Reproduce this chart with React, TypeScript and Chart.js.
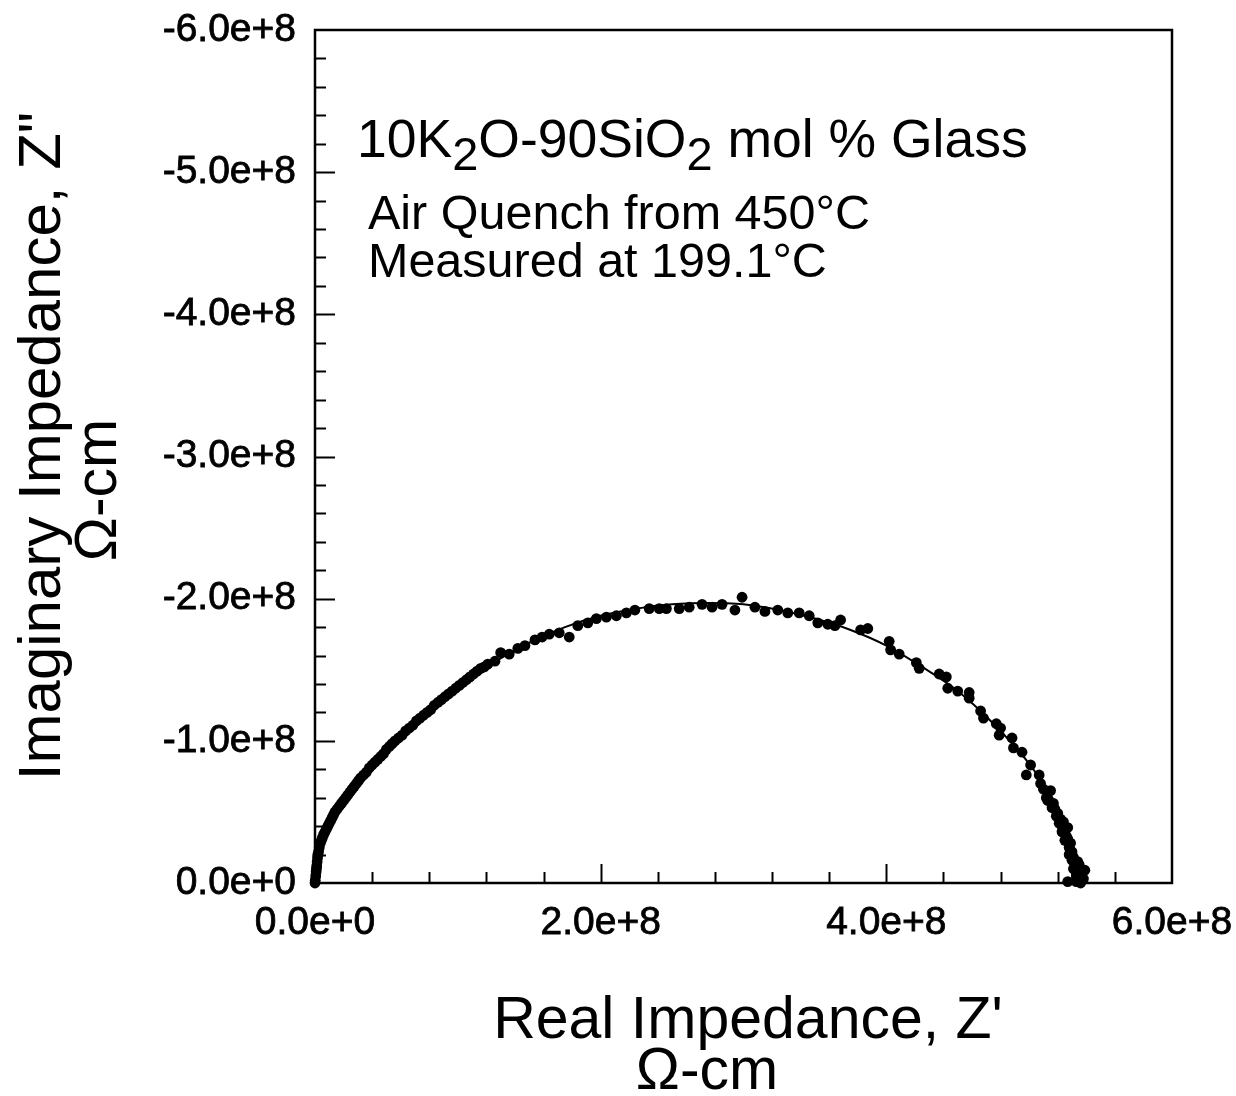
import React, { useEffect, useRef } from "react";
import { Chart, registerables } from "chart.js";

Chart.register(...registerables);

const FONT = '"Liberation Sans", Arial, Helvetica, sans-serif';
const UNIT = 1e8;

// Measured points: real part Z' (x 1e8 ohm-cm)
const pointReal = [
  0.0, 0.005, 0.01, 0.015, 0.02, 0.03, 0.045, 0.06, 0.08, 0.1, 0.12, 0.14, 0.17, 0.2, 0.23, 0.26, 0.29, 0.32,
  0.36, 0.4, 0.44, 0.48, 0.52, 0.56, 0.61, 0.66, 0.71, 0.76, 0.81, 0.86, 0.91, 0.96, 1.01, 1.06, 1.11, 1.16,
  1.21, 1.26, 1.3, 1.36, 1.42, 1.47, 1.54, 1.59, 1.64, 1.71, 1.78, 1.84, 1.91, 1.97, 2.04, 2.11, 2.18, 2.24,
  2.34, 2.41, 2.46, 2.55, 2.62, 2.71, 2.78, 2.85, 2.94, 2.99, 3.08, 3.15, 3.24, 3.31, 3.39, 3.46, 3.52, 3.59,
  3.64, 3.68, 3.82, 3.87, 4.02, 4.03, 4.09, 4.21, 4.23, 4.37, 4.42, 4.43, 4.5, 4.58, 4.58, 4.66, 4.68, 4.77,
  4.79, 4.8, 4.88, 4.89, 4.95, 5.01, 4.98, 5.07, 5.08, 5.12, 5.15, 5.17, 5.18, 5.2, 5.22, 5.24, 5.23, 5.27,
  5.26, 5.25, 5.28, 5.29, 5.3, 5.31, 5.34, 5.32, 5.33, 5.39, 5.35, 5.37, 5.27, 5.36,
  0.002, 0.008, 0.012, 0.018, 0.025, 0.037, 0.052, 0.07, 0.09, 0.11, 0.13, 0.155, 0.185, 0.215, 0.245, 0.275,
  0.305, 0.34, 0.38, 0.42, 0.46, 0.5, 0.54, 0.585, 0.635, 0.685, 0.735, 0.785, 0.835, 0.885, 0.935, 0.985,
  1.035, 1.085, 1.135, 1.185,
  5.1, 5.13, 5.16, 5.19, 5.21, 5.23, 5.25, 5.27, 5.28, 5.3, 5.31, 5.33, 5.35, 5.36, 5.33, 5.38,
];
// Measured points: imaginary part Z'' (x 1e8 ohm-cm, negative)
const pointImag = [
  0.0, -0.05, -0.1, -0.15, -0.2, -0.25, -0.3, -0.34, -0.38, -0.42, -0.46, -0.5, -0.54, -0.58, -0.62, -0.66, -0.7, -0.74,
  -0.78, -0.83, -0.87, -0.91, -0.96, -1.0, -1.04, -1.09, -1.14, -1.18, -1.22, -1.27, -1.31, -1.35, -1.39, -1.43, -1.47, -1.51,
  -1.54, -1.56, -1.62, -1.61, -1.65, -1.67, -1.71, -1.73, -1.75, -1.76, -1.73, -1.81, -1.83, -1.86, -1.87, -1.88, -1.9, -1.92,
  -1.93, -1.93, -1.93, -1.93, -1.94, -1.96, -1.94, -1.96, -1.92, -2.01, -1.94, -1.91, -1.92, -1.9, -1.9, -1.88, -1.83, -1.82,
  -1.81, -1.85, -1.78, -1.79, -1.7, -1.64, -1.61, -1.55, -1.51, -1.47, -1.45, -1.37, -1.35, -1.34, -1.3, -1.21, -1.16, -1.12,
  -1.04, -1.09, -1.02, -0.95, -0.92, -0.83, -0.76, -0.76, -0.7, -0.6, -0.65, -0.56, -0.52, -0.49, -0.45, -0.43, -0.36, -0.39,
  -0.33, -0.3, -0.25, -0.28, -0.22, -0.18, -0.15, -0.12, -0.07, -0.09, -0.04, -0.02, -0.01, 0.0,
  -0.02, -0.08, -0.12, -0.18, -0.22, -0.28, -0.32, -0.36, -0.4, -0.44, -0.48, -0.52, -0.56, -0.6, -0.64, -0.68,
  -0.72, -0.76, -0.81, -0.85, -0.89, -0.94, -0.98, -1.02, -1.07, -1.11, -1.16, -1.2, -1.25, -1.29, -1.33, -1.37,
  -1.41, -1.45, -1.49, -1.52,
  -0.66, -0.58, -0.53, -0.47, -0.42, -0.4, -0.35, -0.31, -0.2, -0.16, -0.1, -0.05, -0.13, -0.06, -0.01, -0.03,
];

// Fitted arc
const fitReal = [0, 0.01, 0.03, 0.08, 0.2, 0.4, 0.6, 0.8, 1.0, 1.25, 1.5, 1.75, 2.0, 2.25, 2.5, 2.75, 3.0, 3.25, 3.5, 3.75, 4.0, 4.25, 4.5, 4.75, 5.0, 5.15, 5.25, 5.32, 5.36, 5.38];
const fitImag = [0, -0.12, -0.25, -0.38, -0.58, -0.83, -1.03, -1.21, -1.37, -1.55, -1.69, -1.8, -1.88, -1.93, -1.96, -1.97, -1.96, -1.92, -1.86, -1.78, -1.67, -1.52, -1.35, -1.12, -0.84, -0.62, -0.43, -0.22, -0.08, 0];

const xMajorStep = 2e8;
const xMinorStep = 4e7;
const yMajorStep = 1e8;
const yMinorStep = 2e7;
const xMax = 6e8;
const yMin = -6e8;

const annotationTitle = [
  { t: "10K", sub: false },
  { t: "2", sub: true },
  { t: "O-90SiO", sub: false },
  { t: "2", sub: true },
  { t: " mol % Glass", sub: false },
];
const annotationLine2 = "Air Quench from 450°C";
const annotationLine3 = "Measured at 199.1°C";
const xTitle1 = "Real Impedance, Z'";
const xTitle2 = "Ω-cm";
const yTitle1 = 'Imaginary Impedance, Z"';
const yTitle2 = "Ω-cm";

const framePlugin = {
  id: "framePlugin",
  afterDraw(chart: any) {
    const { ctx, chartArea } = chart;
    const xs = chart.scales.x;
    const ys = chart.scales.y;
    const { left, right, top, bottom } = chartArea;
    ctx.save();
    ctx.strokeStyle = "#000";
    ctx.lineWidth = 2.5;
    ctx.beginPath();
    ctx.rect(left, top, right - left, bottom - top);
    ctx.stroke();

    ctx.lineWidth = 2;
    const nx = Math.round(xMax / xMinorStep);
    for (let i = 1; i < nx; i++) {
      const v = i * xMinorStep;
      const px = Math.round(xs.getPixelForValue(v)) + 0.5;
      const major = i % Math.round(xMajorStep / xMinorStep) === 0;
      const len = major ? 19 : 11;
      ctx.beginPath();
      ctx.moveTo(px, bottom);
      ctx.lineTo(px, bottom - len);
      ctx.stroke();
    }
    const ny = Math.round(-yMin / yMinorStep);
    for (let i = 1; i < ny; i++) {
      const v = -i * yMinorStep;
      const py = Math.round(ys.getPixelForValue(v)) + 0.5;
      const major = i % Math.round(yMajorStep / yMinorStep) === 0;
      const len = major ? 20 : 11;
      ctx.beginPath();
      ctx.moveTo(left, py);
      ctx.lineTo(left + len, py);
      ctx.stroke();
    }

    // annotation
    ctx.fillStyle = "#000";
    ctx.textBaseline = "alphabetic";
    ctx.textAlign = "left";
    let x = 357;
    const base = 157;
    for (const part of annotationTitle) {
      ctx.font = part.sub ? `47px ${FONT}` : `53.5px ${FONT}`;
      ctx.fillText(part.t, x, part.sub ? base + 13 : base);
      x += ctx.measureText(part.t).width;
    }
    ctx.font = `48.5px ${FONT}`;
    ctx.fillText(annotationLine2, 368, 229);
    ctx.fillText(annotationLine3, 368, 277);

    // axis titles
    ctx.font = `59px ${FONT}`;
    ctx.textAlign = "center";
    ctx.fillText(xTitle1, 748, 1038);
    ctx.fillText(xTitle2, 707, 1089);

    ctx.font = `60px ${FONT}`;
    ctx.save();
    ctx.translate(60, 446);
    ctx.rotate(-Math.PI / 2);
    ctx.fillText(yTitle1, 0, 0);
    ctx.restore();
    ctx.font = `59px ${FONT}`;
    ctx.save();
    ctx.translate(116, 490);
    ctx.rotate(-Math.PI / 2);
    ctx.fillText(yTitle2, 0, 0);
    ctx.restore();

    ctx.restore();
  },
};

export default function App() {
  const ref = useRef<HTMLCanvasElement | null>(null);
  useEffect(() => {
    if (!ref.current) return;
    const points = pointReal.map((r, i) => ({ x: r * UNIT, y: pointImag[i] * UNIT }));
    const fit = fitReal.map((r, i) => ({ x: r * UNIT, y: fitImag[i] * UNIT }));
    const chart = new Chart(ref.current, {
      type: "scatter",
      data: {
        datasets: [
          {
            label: "measured",
            data: points,
            backgroundColor: "#000",
            borderWidth: 0,
            pointRadius: 5.4,
            showLine: false,
            clip: false,
          } as any,
          {
            label: "fit",
            data: fit,
            borderColor: "#000",
            borderWidth: 2,
            pointRadius: 0,
            showLine: true,
            cubicInterpolationMode: "monotone",
            clip: false,
          } as any,
        ],
      },
      options: {
        animation: false,
        responsive: false,
        events: [],
        layout: { padding: { left: 0, top: 30, right: 64, bottom: 0 } },
        plugins: { legend: { display: false }, tooltip: { enabled: false }, title: { display: false } },
        scales: {
          x: {
            type: "linear",
            min: 0,
            max: xMax,
            grid: { display: false, drawTicks: false },
            border: { display: false },
            ticks: {
              stepSize: xMajorStep,
              autoSkip: false,
              maxRotation: 0,
              padding: 17,
              color: "#000",
              textStrokeColor: "#000",
              textStrokeWidth: 0.8,
              font: { family: FONT, size: 39 },
              callback: (v: any) => Number(v).toExponential(1),
            },
            afterFit: (s: any) => {
              s.height = 1096 - 883;
              s.paddingLeft = 0;
              s.paddingRight = 0;
            },
          },
          y: {
            type: "linear",
            min: yMin,
            max: 0,
            reverse: true,
            grid: { display: false, drawTicks: false },
            border: { display: false },
            ticks: {
              stepSize: yMajorStep,
              autoSkip: false,
              padding: 19,
              color: "#000",
              textStrokeColor: "#000",
              textStrokeWidth: 0.8,
              font: { family: FONT, size: 39 },
              callback: (v: any) => Number(v).toExponential(1),
            },
            afterFit: (s: any) => {
              s.width = 315;
              s.paddingTop = 0;
              s.paddingBottom = 0;
            },
          },
        },
      },
      plugins: [framePlugin],
    });
    return () => chart.destroy();
  }, []);
  return (
    <div style={{ position: "fixed", left: 0, top: 0, width: 1236, height: 1096, background: "#fff" }}>
      <canvas ref={ref} width={1236} height={1096} />
    </div>
  );
}
